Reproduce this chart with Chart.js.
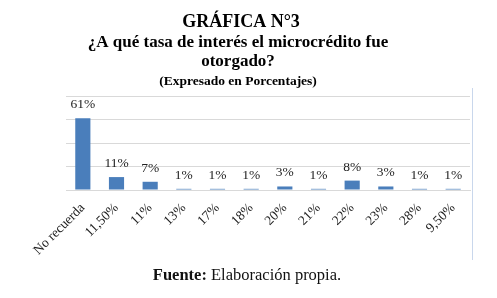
<!DOCTYPE html>
<html><head><meta charset="utf-8">
<script src="https://cdn.jsdelivr.net/npm/chart.js@4/dist/chart.umd.min.js"></script>
<style>html,body{margin:0;padding:0;background:#fff}#wrap{width:497px;height:298px;position:relative}</style>
</head><body><div id="wrap"><canvas id="c" width="497" height="298"></canvas></div>
<script>
const categories = ["No recuerda","11,50%","11%","13%","17%","18%","20%","21%","22%","23%","28%","9,50%"];
const values = [61,11,7,1,1,1,3,1,8,3,1,1];
const titleLines = ["GRÁFICA N°3","¿A qué tasa de interés el microcrédito fue","otorgado?","(Expresado en Porcentajes)"];
const sourceBold = "Fuente:";
const sourceText = " Elaboración propia.";

const serif = "'Liberation Serif','Times New Roman',serif";

const decor = {
  id:'decor',
  afterDraw(chart){
    const ctx = chart.ctx;
    ctx.save();
    ctx.fillStyle = '#000';
    ctx.textAlign = 'center';
    ctx.textBaseline = 'middle';
    ctx.font = "bold 18px " + serif;
    ctx.fillText(titleLines[0], 241, 22);
    ctx.font = "bold 17px " + serif;
    ctx.fillText(titleLines[1], 238, 43);
    ctx.fillText(titleLines[2], 238, 62);
    ctx.font = "bold 13.5px " + serif;
    ctx.fillText(titleLines[3], 238, 82);
    // data labels
    const meta = chart.getDatasetMeta(0);
    ctx.font = "13.5px " + serif;
    ctx.fillStyle = '#222';
    ctx.textBaseline = 'alphabetic';
    meta.data.forEach((bar,i)=>{
      ctx.fillText(values[i] + '%', bar.x, bar.y - 10);
    });
    // right frame line
    ctx.strokeStyle = '#c9d7ec';
    ctx.lineWidth = 1;
    ctx.beginPath();
    ctx.moveTo(472.5, 88);
    ctx.lineTo(472.5, 260);
    ctx.stroke();
    // footer
    ctx.fillStyle = '#111';
    ctx.textAlign = 'left';
    ctx.textBaseline = 'middle';
    ctx.font = "bold 16.5px " + serif;
    const w1 = ctx.measureText(sourceBold).width;
    ctx.font = "16.5px " + serif;
    const w2 = ctx.measureText(sourceText).width;
    let x0 = 247 - (w1 + w2)/2;
    ctx.font = "bold 16.5px " + serif;
    ctx.fillText(sourceBold, x0, 276);
    ctx.font = "16.5px " + serif;
    ctx.fillText(sourceText, x0 + w1, 276);
    ctx.restore();
  }
};

new Chart(document.getElementById('c'), {
  type:'bar',
  data:{labels:categories, datasets:[{data:values, backgroundColor:'#4a7ebb', barPercentage:0.45, categoryPercentage:1}]},
  options:{
    responsive:false, animation:false,
    layout:{padding:{left:66, right:27, top:96, bottom:0}},
    plugins:{legend:{display:false}, tooltip:{enabled:false}, title:{display:false}},
    scales:{
      x:{
        grid:{display:false},
        border:{color:'#d9d9d9'},
        ticks:{minRotation:45, maxRotation:45, autoSkip:false, color:'#222', font:{family:serif, size:13.5}, padding:2},
        afterFit(s){ s.height = 108; }
      },
      y:{
        min:0, max:80,
        ticks:{display:false, stepSize:20},
        grid:{color:'#d9d9d9', drawTicks:false},
        border:{display:false},
        afterFit(s){ s.width = 0; }
      }
    }
  },
  plugins:[decor]
});
</script></body></html>
